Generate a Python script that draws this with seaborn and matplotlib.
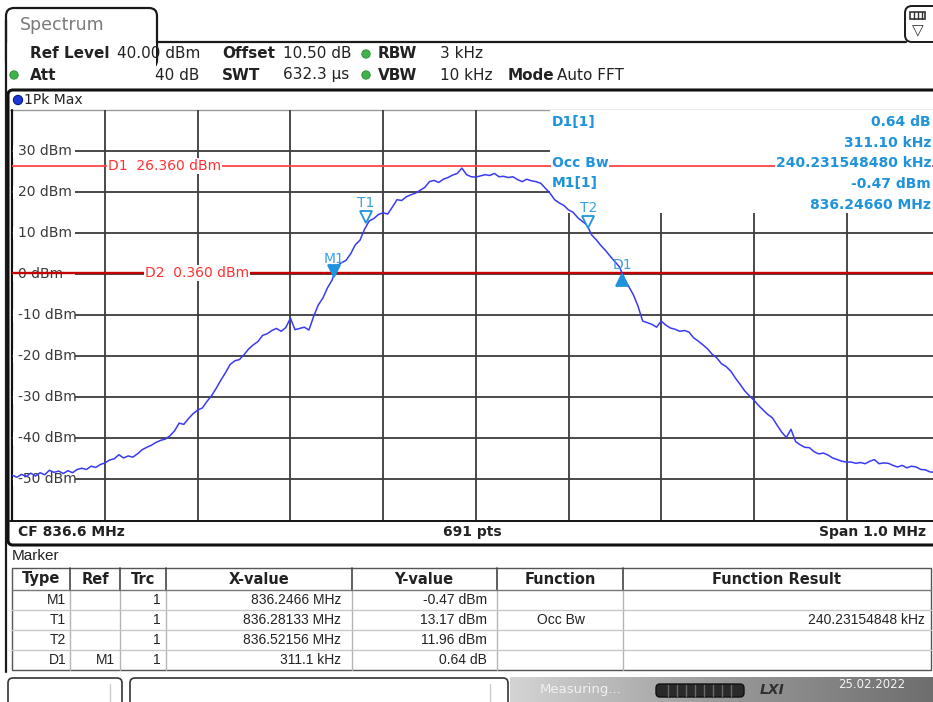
import numpy as np
import pandas as pd
import matplotlib
matplotlib.use("Agg")
import matplotlib.pyplot as plt
import seaborn as sns
from matplotlib.patches import Rectangle, FancyBboxPatch, Circle
from matplotlib.lines import Line2D

# ---------------- data ----------------
start_mhz = 835.9
stop_mhz = 836.9
step_khz = 5.0
trace_dbm = [
    -49.0, -49.5, -48.8, -49.3, -48.5, -49.2, -48.4, -48.9, -47.8, -48.3,
    -48.0, -48.6, -47.9, -48.4, -47.6, -47.3, -47.6, -46.8, -47.1, -46.4,
    -46.0, -45.3, -45.0, -44.0, -44.8, -44.3, -44.6, -43.8, -42.8, -42.2,
    -41.7, -41.0, -40.5, -40.2, -39.4, -38.2, -36.3, -36.6, -35.2, -34.0,
    -33.1, -32.6, -31.0, -29.6, -27.8, -25.8, -24.0, -22.0, -21.1, -20.8,
    -19.6, -18.2, -17.2, -16.4, -14.9, -14.5, -13.7, -13.2, -13.9, -13.0,
    -10.7, -13.5, -13.2, -12.9, -13.6, -10.3, -7.5, -5.8, -3.3, -1.4,
    2.0, 2.8, 3.4, 5.0, 7.2, 8.3, 11.0, 13.0, 13.6, 14.6,
    15.0, 14.7, 16.4, 18.2, 18.0, 18.9, 19.4, 19.8, 20.5, 21.2,
    22.6, 22.9, 22.4, 23.2, 23.6, 24.2, 24.6, 25.9, 24.3, 23.8,
    23.7, 24.0, 24.3, 24.1, 24.6, 23.8, 23.9, 23.6, 23.8, 23.1,
    22.6, 23.2, 22.8, 22.6, 22.2, 21.0, 19.8, 18.2, 17.4, 16.8,
    15.7, 15.1, 13.8, 12.9, 12.0, 9.6, 8.4, 7.0, 5.8, 4.4,
    3.1, 1.8, -0.9, -3.0, -5.0, -7.8, -11.4, -11.8, -12.2, -12.9,
    -11.4, -12.4, -13.1, -13.4, -13.9, -13.7, -14.1, -15.5, -16.3, -17.2,
    -18.2, -19.5, -20.4, -21.8, -22.5, -23.6, -25.3, -26.8, -28.4, -29.6,
    -30.7, -32.0, -33.1, -34.2, -35.0, -36.8, -38.5, -39.8, -37.8, -40.8,
    -41.6, -42.2, -42.3, -43.3, -43.8, -43.6, -44.1, -44.8, -45.2, -45.6,
    -45.8, -45.8, -46.1, -45.9, -46.2, -45.6, -45.2, -46.2, -46.0, -46.1,
    -46.6, -47.0, -46.6, -47.2, -46.8, -47.0, -47.6, -47.7, -48.2, -48.3,
    -48.4,
]
grid_freqs_mhz = [836.0, 836.1, 836.2, 836.3, 836.4, 836.5, 836.6, 836.7, 836.8]
grid_levels_dbm = [30, 20, 10, 0, -10, -20, -30, -40, -50]
level_labels = ["30 dBm", "20 dBm", "10 dBm", "0 dBm", "-10 dBm", "-20 dBm",
                "-30 dBm", "-40 dBm", "-50 dBm"]
y_min, y_max = -60, 40
d1_level = 26.36
d2_level = 0.36

marker_names = ["M1", "T1", "T2", "D1"]
marker_freq_mhz = [836.2466, 836.28133, 836.52156, 836.5577]
marker_level_dbm = [-0.47, 13.17, 11.96, 0.17]

header_row1 = [("Ref Level", True), ("40.00 dBm", False), ("Offset", True),
               ("10.50 dB", False), ("RBW", True), ("3 kHz", False)]
header_row2 = [("Att", True), ("40 dB", False), ("SWT", True),
               ("632.3 µs", False), ("VBW", True), ("10 kHz", False),
               ("Mode", True), ("Auto FFT", False)]

info_left = ["D1[1]", "Occ Bw", "M1[1]"]
info_right = ["0.64 dB", "311.10 kHz", "240.231548480 kHz", "-0.47 dBm", "836.24660 MHz"]

table_header = ["Type", "Ref", "Trc", "X-value", "Y-value", "Function", "Function Result"]
table_type = ["M1", "T1", "T2", "D1"]
table_ref = ["", "", "", "M1"]
table_trc = ["1", "1", "1", "1"]
table_x = ["836.2466 MHz", "836.28133 MHz", "836.52156 MHz", "311.1 kHz"]
table_y = ["-0.47 dBm", "13.17 dBm", "11.96 dBm", "0.64 dB"]
table_func = ["", "Occ Bw", "", ""]
table_result = ["", "240.23154848 kHz", "", ""]

# ---------------- figure ----------------
sns.set_style("white")
plt.rcParams["font.family"] = ["DejaVu Sans"]
W, H = 933, 702
fig = plt.figure(figsize=(W / 100, H / 100), dpi=100)
fig.patch.set_facecolor("white")

bg = fig.add_axes([0, 0, 1, 1])
bg.set_xlim(0, W)
bg.set_ylim(H, 0)
bg.axis("off")

NARROW = ["Liberation Sans", "DejaVu Sans"]
DARK = "#222222"
MK = "#1f93dc"

# --- tab / top chrome ---
tab = FancyBboxPatch((6, 8), 151, 60, boxstyle="round,pad=0,rounding_size=8",
                     fc="white", ec="#1a1a1a", lw=1.6)
bg.add_patch(tab)
bg.add_patch(Rectangle((7, 43), 149, 30, fc="white", ec="none"))
bg.add_line(Line2D([157, 906], [42, 42], color="#1a1a1a", lw=1.6))
bg.add_line(Line2D([6, 6], [20, 672], color="#1a1a1a", lw=1.6))
bg.text(20, 25, "Spectrum", fontsize=12.5, color="#7a7a7a", va="center", ha="left")
icon = FancyBboxPatch((905, 6), 40, 36, boxstyle="round,pad=0,rounding_size=7",
                      fc="white", ec="#1a1a1a", lw=1.4)
bg.add_patch(icon)
bg.add_patch(Rectangle((910, 12), 15, 7, fc="white", ec="#333333", lw=1.2))
for xx in (914, 918, 922):
    bg.add_line(Line2D([xx, xx], [12, 19], color="#333333", lw=1))
bg.text(917.5, 31, "▽", fontsize=11, color="#333333", ha="center", va="center")

# --- header rows ---
row1_x = [30, 117, 222, 283, 378, 440]
for (t, b), x in zip(header_row1, row1_x):
    bg.text(x, 53, t, fontsize=11, fontweight="bold" if b else "normal",
            color=DARK, va="center", ha="left")
row2_x = [30, 199, 222, 283, 378, 440, 508, 557]
for (t, b), x in zip(header_row2, row2_x):
    bg.text(x, 75, t, fontsize=11, fontweight="bold" if b else "normal",
            color=DARK, va="center", ha="right" if t == "40 dB" else "left")
for (cx, cy) in [(14, 75), (366, 54), (366, 75)]:
    bg.add_patch(Circle((cx, cy), 4.2, fc="#3fb24a", ec="#2c8a34", lw=0.6))

# --- trace window frame ---
win = FancyBboxPatch((8, 90), 940, 455, boxstyle="round,pad=0,rounding_size=5",
                     fc="white", ec="#111111", lw=2.2, zorder=0.5)
bg.add_patch(win)
bg.add_patch(Circle((18, 100), 4.6, fc="#1d36d6", ec="#0a1a80", lw=0.8, zorder=1))
bg.text(24, 100, "1Pk Max", fontsize=10, color=DARK, va="center", ha="left", zorder=1)
bg.add_line(Line2D([10, 940], [110.3, 110.3], color="#9a9a9a", lw=1.0, zorder=1))
bg.add_line(Line2D([11.5, 11.5], [110, 521], color="#111111", lw=1.6, zorder=1))
bg.add_line(Line2D([10, 940], [521, 521], color="#111111", lw=1.4, zorder=1))
bg.text(18, 532, "CF 836.6 MHz", fontsize=10, fontweight="bold", color=DARK,
        va="center", ha="left", zorder=1)
bg.text(472, 532, "691 pts", fontsize=10, fontweight="bold", color=DARK,
        va="center", ha="center", zorder=1)
bg.text(926, 532, "Span 1.0 MHz", fontsize=10, fontweight="bold", color=DARK,
        va="center", ha="right", zorder=1)

# --- plot axes ---
X0, X1, Y0, Y1 = 12.3, 939.3, 110.3, 520.3
ax = fig.add_axes([X0 / W, 1 - Y1 / H, (X1 - X0) / W, (Y1 - Y0) / H])
ax.set_xlim(start_mhz, stop_mhz)
ax.set_ylim(y_min, y_max)
ax.set_axis_off()

def fx(px):
    return start_mhz + (px - X0) / (X1 - X0) * (stop_mhz - start_mhz)

def fy(py):
    return y_max - (py - Y0) / (Y1 - Y0) * (y_max - y_min)

GRID = "#3c3c3c"
for f in grid_freqs_mhz:
    ax.plot([f, f], [y_min, y_max], color=GRID, lw=1.3, zorder=1)
for lv in grid_levels_dbm:
    ax.plot([start_mhz, stop_mhz], [lv, lv], color=GRID, lw=1.3, zorder=1)

# label backgrounds and labels
for lv, lab in zip(grid_levels_dbm, level_labels):
    ax.add_patch(Rectangle((fx(12.5), lv - 1.6), fx(75) - fx(12.5), 3.2,
                           fc="white", ec="none", zorder=2))
    ax.text(fx(18), lv, lab, fontsize=10, color="#3a3a3a", va="center", ha="left", zorder=2.5)

# marker info box background
ax.add_patch(Rectangle((fx(550), fy(213)), stop_mhz - fx(550), fy(110.3) - fy(213),
                       fc="white", ec="none", zorder=2))

# display lines
ax.axhline(d1_level, color="#ff4545", lw=1.3, zorder=3)
ax.axhline(d2_level, color="#c40000", lw=1.7, zorder=3)
ax.text(fx(108), d1_level, f"D1  {d1_level:.3f} dBm", fontsize=10, color="#ff3030",
        va="center", ha="left", zorder=4,
        bbox=dict(fc="white", ec="none", pad=0.6))
ax.text(fx(145), d2_level, f"D2  {d2_level:.3f} dBm", fontsize=10, color="#ff3030",
        va="center", ha="left", zorder=4,
        bbox=dict(fc="white", ec="none", pad=0.6))

# marker info texts
left_y = [122, 163, 183]
for t, py in zip(info_left, left_y):
    ax.text(fx(552), fy(py), t, fontsize=10, fontweight="bold", color=MK,
            va="center", ha="left", zorder=4, bbox=dict(fc="white", ec="none", pad=0.5))
right_y = [122, 143, 163, 184, 205]
for t, py in zip(info_right, right_y):
    ax.text(fx(931), fy(py), t, fontsize=10, fontweight="bold", color=MK,
            va="center", ha="right", zorder=4, bbox=dict(fc="white", ec="none", pad=0.5))

# trace
freqs = start_mhz + np.arange(len(trace_dbm)) * step_khz / 1000.0
df = pd.DataFrame({"freq": freqs, "level": trace_dbm})
sns.lineplot(data=df, x="freq", y="level", ax=ax, color="#3a3af5", lw=1.1,
             zorder=5, legend=False)
ax.set_xlim(start_mhz, stop_mhz)
ax.set_ylim(y_min, y_max)
ax.set_axis_off()

# markers
styles = {"M1": ("v", True, 1.3, 4.2), "T1": ("v", False, 0.9, 4.2),
          "T2": ("v", False, 0.9, 4.2), "D1": ("^", True, -1.5, 2.2)}
for name, f, lv in zip(marker_names, marker_freq_mhz, marker_level_dbm):
    m, filled, off, loff = styles[name]
    ax.plot([f], [lv + off], marker=m, ms=8, mfc=MK if filled else "white",
            mec=MK, mew=1.3, ls="none", zorder=6)
    ax.text(f, lv + loff, name, fontsize=10, color="#3aa0e0", ha="center",
            va="center", zorder=6)

# --- marker table ---
bg.text(12, 556, "Marker", fontsize=11, family=NARROW, color=DARK, va="center", ha="left")
tx0, tx1, ty0, ty1 = 12, 931, 568, 670
bg.add_patch(Rectangle((tx0, ty0), tx1 - tx0, ty1 - ty0, fc="white", ec="#555555", lw=1.0))
col_sep = [70, 120, 166, 352, 497, 623]
for x in col_sep:
    bg.add_line(Line2D([x, x], [ty0, 590], color="#444444", lw=1.2))
    bg.add_line(Line2D([x, x], [590, ty1], color="#b5b5b5", lw=1.0))
bg.add_line(Line2D([tx0, tx1], [590, 590], color="#777777", lw=1.0))
for yy in (610, 630, 650):
    bg.add_line(Line2D([tx0, tx1], [yy, yy], color="#c8c8c8", lw=1.0))
head_cx = [41, 95, 143, 259, 424, 560, 777]
for t, x in zip(table_header, head_cx):
    bg.text(x, 579, t, fontsize=10.5, fontweight="bold", color=DARK,
            ha="center", va="center")
row_y = [600, 620, 640, 660]
for i, y in enumerate(row_y):
    kw = dict(fontsize=10, family=NARROW, color=DARK, va="center")
    bg.text(66, y, table_type[i], ha="right", **kw)
    bg.text(115, y, table_ref[i], ha="right", **kw)
    bg.text(161, y, table_trc[i], ha="right", **kw)
    bg.text(341, y, table_x[i], ha="right", **kw)
    bg.text(487, y, table_y[i], ha="right", **kw)
    bg.text(561, y, table_func[i], ha="center", **kw)
    bg.text(925, y, table_result[i], ha="right", **kw)

# --- status bar ---
for (x, w, d) in [(8, 114, 110), (130, 378, 490)]:
    bg.add_patch(FancyBboxPatch((x, 678), w, 30, boxstyle="round,pad=0,rounding_size=5",
                                fc="white", ec="#333333", lw=1.2))
    bg.add_line(Line2D([d, d], [684, 702], color="#cccccc", lw=1))
grad = np.linspace(0, 1, 256)[None, :]
bg.imshow(grad, extent=(510, 933, 702, 677), cmap=matplotlib.colors.LinearSegmentedColormap.from_list(
    "g", ["#d4d4d4", "#9a9a9a", "#6e6e6e"]), aspect="auto", zorder=0.2)
bg.set_xlim(0, W)
bg.set_ylim(H, 0)
bg.text(540, 690, "Measuring...", fontsize=9.5, color="#f0f0f0", va="center", ha="left")
bg.add_patch(FancyBboxPatch((656, 684), 88, 13, boxstyle="round,pad=0,rounding_size=4",
                            fc="#2a2a2a", ec="#111111", lw=1))
for xx in range(668, 740, 9):
    bg.add_line(Line2D([xx, xx], [685, 696], color="#6a6a6a", lw=1))
bg.text(760, 690, "LXI", fontsize=10, fontstyle="italic", fontweight="bold",
        color="#303030", va="center", ha="left")
bg.text(838, 685, "25.02.2022", fontsize=8.5, color="#f4f4f4", va="center", ha="left")

fig.savefig("out.png", dpi=100)
